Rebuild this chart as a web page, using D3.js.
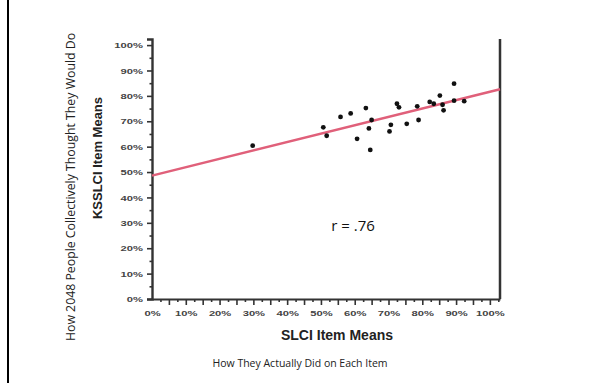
<!DOCTYPE html>
<html>
<head>
<meta charset="utf-8">
<script src="https://cdn.jsdelivr.net/npm/d3@7"></script>
<style>
  body { margin: 0; background: #fff; }
  svg { display: block; }
</style>
</head>
<body>
<div id="chart"></div>
<script>
// SLCI item means (x) vs KSSLCI item means (y), as fractions
let slci   = [0.298, 0.507, 0.517, 0.558, 0.588, 0.633, 0.607, 0.650, 0.642, 0.646, 0.725, 0.731, 0.707, 0.703, 0.754, 0.785, 0.789, 0.822, 0.834, 0.852, 0.863, 0.860, 0.894, 0.894, 0.924]
let ksslci = [0.604, 0.676, 0.643, 0.717, 0.731, 0.752, 0.631, 0.705, 0.672, 0.587, 0.769, 0.755, 0.686, 0.660, 0.690, 0.759, 0.705, 0.776, 0.769, 0.801, 0.743, 0.765, 0.848, 0.781, 0.779]

// fitted line
let fitIntercept = 0.486
let fitSlope = 0.33

let xTicks = [0, 0.1, 0.2, 0.3, 0.4, 0.5, 0.6, 0.7, 0.8, 0.9, 1]
let yTicks = [0, 0.1, 0.2, 0.3, 0.4, 0.5, 0.6, 0.7, 0.8, 0.9, 1]

let width = 592, height = 383

let svg = d3.select("#chart")
  .append("svg")
  .attr("width", width)
  .attr("height", height)

// left frame line of the slide
svg.append("line")
  .attr("x1", 8).attr("x2", 8)
  .attr("y1", 0).attr("y2", height)
  .attr("stroke", "#000")
  .attr("stroke-width", 2)

let xAx = d3.scaleLinear()
  .domain([0, 1.03])
  .range([152, 500])
let yAx = d3.scaleLinear()
  .domain([0, 1.024])
  .range([299, 39])

const pct = d3.format(".0%")
const tickFont = "Liberation Sans, Arial, sans-serif"

// minor ticks on x (2.5% steps)
svg.append("g")
  .attr("transform", "translate(0,299)")
  .call(d3.axisBottom(xAx).tickValues(d3.range(0.025, 1.03, 0.05)).tickSize(3).tickFormat(""))
  .call(g => g.select(".domain").remove())
  .selectAll("line").attr("stroke", "#333").attr("stroke-width", 1.6)

// 5% ticks on x
svg.append("g")
  .attr("transform", "translate(0,299)")
  .call(d3.axisBottom(xAx).tickValues(d3.range(0.05, 1.03, 0.05)).tickSize(6).tickFormat(""))
  .call(g => g.select(".domain").remove())
  .selectAll("line").attr("stroke", "#333").attr("stroke-width", 1.6)

// x labels
let xg = svg.append("g")
  .attr("transform", "translate(0,299)")
  .call(d3.axisBottom(xAx).tickValues(xTicks).tickSize(0).tickPadding(11).tickFormat(pct))
xg.select(".domain").attr("stroke", "#333").attr("stroke-width", 2)
xg.selectAll("text")
  .attr("font-family", tickFont)
  .attr("font-weight", "bold")
  .attr("font-size", 8)
  .attr("fill", "#444")
  .attr("transform", "scale(1.4,1)")

// y axis minor ticks (5%)
svg.append("g")
  .attr("transform", "translate(152,0)")
  .call(d3.axisLeft(yAx).tickValues(d3.range(0.05, 1.0, 0.1)).tickSize(2.5).tickFormat(""))
  .call(g => g.select(".domain").remove())
  .selectAll("line").attr("stroke", "#333").attr("stroke-width", 1.6)

let yg = svg.append("g")
  .attr("transform", "translate(152,0)")
  .call(d3.axisLeft(yAx).tickValues(yTicks).tickSize(5).tickPadding(4).tickFormat(pct))
yg.select(".domain").attr("stroke", "#333").attr("stroke-width", 2.4)
yg.selectAll("line").attr("stroke", "#333").attr("stroke-width", 1.6)
yg.selectAll("text")
  .attr("font-family", tickFont)
  .attr("font-weight", "bold")
  .attr("font-size", 8)
  .attr("fill", "#444")
  .attr("x", -6.5)
  .attr("transform", "scale(1.4,1)")

// right frame line
svg.append("line")
  .attr("x1", xAx(1.03)).attr("x2", xAx(1.03))
  .attr("y1", yAx(1.024)).attr("y2", yAx(0))
  .attr("stroke", "#333")
  .attr("stroke-width", 2.5)

// regression line
let fitLine = d3.line()
  .x(d => xAx(d))
  .y(d => yAx(fitIntercept + fitSlope * d))
svg.append("path")
  .datum([0, 1.03])
  .attr("d", fitLine)
  .attr("fill", "none")
  .attr("stroke", "#e0607a")
  .attr("stroke-width", 2.5)

// points
svg.append("g")
  .selectAll("circle")
  .data(slci)
  .join("circle")
  .attr("cx", d => xAx(d))
  .attr("cy", (d, i) => yAx(ksslci[i]))
  .attr("r", 2.4)
  .attr("fill", "#111")

// texts
svg.append("text")
  .attr("x", 353).attr("y", 231)
  .attr("text-anchor", "middle")
  .attr("font-family", "Open Sans, sans-serif")
  .attr("font-size", 15)
  .attr("fill", "#111")
  .text("r = .76")

svg.append("text")
  .attr("transform", "translate(102,158) rotate(-90)")
  .attr("text-anchor", "middle")
  .attr("font-family", "Liberation Sans, Arial, sans-serif")
  .attr("font-weight", "bold")
  .attr("font-size", 13)
  .attr("fill", "#222")
  .text("KSSLCI Item Means")

svg.append("text")
  .attr("x", 337).attr("y", 340)
  .attr("text-anchor", "middle")
  .attr("font-family", "Liberation Sans, Arial, sans-serif")
  .attr("font-weight", "bold")
  .attr("font-size", 14)
  .attr("fill", "#222")
  .text("SLCI Item Means")

svg.append("text")
  .attr("transform", "translate(75,187) rotate(-90)")
  .attr("text-anchor", "middle")
  .attr("font-family", "Open Sans, sans-serif")
  .attr("font-size", 12.3)
  .attr("fill", "#222")
  .text("How 2048 People Collectively  Thought They Would Do")

svg.append("text")
  .attr("x", 300).attr("y", 367)
  .attr("text-anchor", "middle")
  .attr("font-family", "Open Sans, sans-serif")
  .attr("font-size", 10.5)
  .attr("fill", "#222")
  .text("How They Actually Did on Each Item")
</script>
</body>
</html>
